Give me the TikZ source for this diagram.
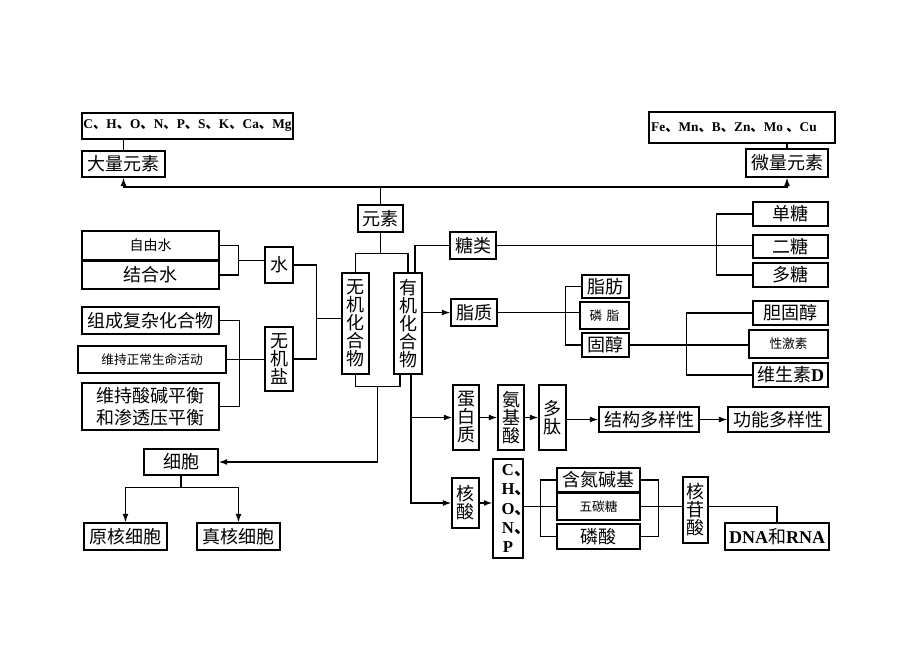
\documentclass[tikz,border=0pt]{standalone}
\usepackage{fontspec}
\usepackage{tikz}
\usetikzlibrary{calc,arrows.meta}
\newfontfamily\cjk{Noto Sans CJK SC}
\newfontfamily\lat{Liberation Serif}
\newcommand{\dun}{{\cjk 、}}
\newcommand{\bl}[1]{{\lat\bfseries #1}}

\begin{document}
\begin{tikzpicture}[x=0.75pt,y=0.75pt,yscale=-1,
  sz/.style 2 args={minimum width=#1*0.75pt,minimum height=#2*0.75pt},
  box/.style={draw,line width=0.8pt,inner sep=0pt,align=center,font=\cjk\fontsize{13.5}{14}\selectfont},
  smallbox/.style={box,font=\cjk\fontsize{9.5}{11}\selectfont},
  vbox/.style={box,font=\cjk\fontsize{13.5}{13.5}\selectfont},
  latbox/.style={box,font=\lat\bfseries\fontsize{10}{11}\selectfont},
  con/.style={line width=1.1pt},
  arr/.style={con,-{Latex[length=6.5pt,width=4.5pt]}}]
\useasboundingbox[fill=white] (0,0) rectangle (920,651);

%Elements
\node[latbox,sz={211}{26}] (cho) at (187.5,126) {C\dun H\dun O\dun N\dun P\dun S\dun K\dun Ca\dun Mg};
\node[box,sz={83}{26}] (dl) at (123.5,164) {大量元素};
\node[latbox,sz={186}{31}] (fe) at (742,127.5) {Fe\dun Mn\dun B\dun Zn\dun Mo \dun Cu\hspace{1.2em}};
\node[box,sz={82}{28}] (wl) at (787,163) {微量元素};
\node[box,sz={45}{27}] (ys) at (380.5,218.5) {元素};

%Compounds
\node[vbox,sz={27}{101}] (wj) at (355.5,323.5) {无\\机\\化\\合\\物};
\node[vbox,sz={28}{101}] (yj) at (408,323.5) {有\\机\\化\\合\\物};

%Inorganic side
\node[smallbox,sz={137}{29},font=\cjk\fontsize{10.5}{12}\selectfont] (zys) at (150.5,245.5) {自由水};
\node[box,sz={137}{28}] (jhs) at (150.5,275) {结合水};
\node[vbox,sz={28}{36}] (water) at (279,265) {水};
\node[vbox,sz={28}{64}] (wjy) at (279,359) {无\\机\\盐};
\node[box,sz={137}{27}] (zc) at (150.5,320.5) {组成复杂化合物};
\node[smallbox,sz={148}{27}] (wc) at (152,359.5) {维持正常生命活动};
\node[box,sz={137}{47},font=\cjk\fontsize{13.5}{16.5}\selectfont] (wsj) at (150.5,406.5) {维持酸碱平衡\\和渗透压平衡};

%Sugars and lipids
\node[box,sz={46}{27}] (tl) at (473,245.5) {糖类};
\node[box,sz={75}{24}] (dt) at (790.5,214) {单糖};
\node[box,sz={75}{23}] (et) at (790.5,246.5) {二糖};
\node[box,sz={75}{24}] (duot) at (790.5,275) {多糖};
\node[box,sz={46}{27}] (zz) at (474,312.5) {脂质};
\node[box,sz={47}{23}] (zf) at (605.5,286.5) {脂肪};
\node[smallbox,sz={49}{27}] (lz) at (604.5,315.5) {磷\,\,脂};
\node[box,sz={47}{24}] (gc) at (605.5,345) {固醇};
\node[box,sz={75}{24}] (dgc) at (790.5,313) {胆固醇};
\node[smallbox,sz={79}{28}] (xjs) at (788.5,344) {性激素};
\node[box,sz={75}{24}] (wss) at (790.5,375) {维生素\bl{D}};

%Proteins
\node[vbox,sz={26}{65}] (dbz) at (466,417.5) {蛋\\白\\质};
\node[vbox,sz={26}{65}] (ajs) at (511,417.5) {氨\\基\\酸};
\node[vbox,sz={27}{65}] (dtai) at (552.5,417.5) {多\\肽};
\node[box,sz={100}{25}] (jg) at (649,419.5) {结构多样性};
\node[box,sz={101}{25}] (gn) at (778.5,419.5) {功能多样性};

%Nucleic acids
\node[vbox,sz={27}{50}] (hs) at (465.5,503) {核\\酸};
\node[box,sz={30}{99},font=\lat\bfseries\fontsize{12.5}{14.5}\selectfont] (chonp) at (508,508.5) {C\rlap{\dun}\\H\rlap{\dun}\\O\rlap{\dun}\\N\rlap{\dun}\\P};
\node[box,sz={83}{24}] (hdjj) at (598.5,480) {含氮碱基};
\node[smallbox,sz={83}{27}] (wtt) at (598.5,506.5) {五碳糖};
\node[box,sz={83}{25}] (ls) at (598.5,536.5) {磷酸};
\node[vbox,sz={25}{66}] (hgs) at (695.5,510) {核\\苷\\酸};
\node[box,sz={104}{27}] (dna) at (777,536.5) {\bl{DNA}和\bl{RNA}};

%Cells
\node[box,sz={74}{26}] (xb) at (181,462) {细胞};
\node[box,sz={83}{27}] (yhxb) at (125.5,536.5) {原核细胞};
\node[box,sz={83}{27}] (zhxb) at (238.5,536.5) {真核细胞};

%Connectors: elements
\draw[con] (dl.north) -- (dl.north |- cho.south);
\draw[con] (wl.north) -- (wl.north |- fe.south);
\draw[con] (ys.north) -- ++(0,-17.5) coordinate (tp);
\draw[arr] (tp) -| (dl.south);
\draw[arr] (tp) -| (wl.south);
\draw[con] (ys.south) -- ++(0,21) coordinate (yb);
\draw[con] (wj.north) |- (yb) -| (yj.north);

%Connectors: inorganic
\coordinate (wm) at ($(zys.east)!0.5!(jhs.east)+(19,0)$);
\draw[con] (zys.east) -| (wm) |- (jhs.east);
\draw[con] (wm) -- (wm -| water.west);
\draw[con] (water.east) -- ++(23,0) coordinate (sa) |- (wjy.east);
\draw[con] (sa |- wj.west) ++(0,-5) -- ($(wj.west)+(0,-5)$);
\draw[con] (zc.east) -- ++(20,0) |- (wsj.east);
\draw[con] (wc.east) -- (wc.east -| wjy.west);

%Connectors: cells
\coordinate (yjb) at ($(yj.south)+(-8,0)$);
\draw[con] (wj.south) |- ($(yjb)+(0,12)$) -- (yjb);
\draw[arr] ($(wj.south)!0.5!(yjb)+(0,12)$) |- (xb.east);
\draw[con] (xb.south) -- ++(0,12) coordinate (xm);
\draw[arr] (xm) -| (yhxb.north);
\draw[arr] (xm) -| (zhxb.north);

%Connectors: organic
\draw[con] ($(yj.north)+(7,0)$) |- (tl.west);
\draw[arr] (yj.east |- zz.west) -- (zz.west);
\coordinate (yv) at ($(yj.south)+(3,0)$);
\draw[arr] (yv) |- (hs.west);
\draw[arr] (yv |- dbz.west) -- (dbz.west);

%Sugars
\draw[con] (tl.east) -- (tl.east -| et.west);
\draw[con] (dt.west) -- ++(-36,0) |- (duot.west);

%Lipids
\draw[con] (zz.east) -- (zz.east -| lz.west);
\draw[con] (zf.west) -- ++(-16,0) |- (gc.west);
\draw[con] (gc.east) -- (gc.east -| xjs.west);
\draw[con] (dgc.west) -- ++(-66,0) |- (wss.west);

%Proteins
\draw[arr] (dbz) -- (ajs);
\draw[arr] (ajs) -- (dtai);
\draw[arr] (dtai.east |- jg.west) -- (jg.west);
\draw[arr] (jg) -- (gn);

%Nucleic acids
\draw[arr] (hs) -- (hs -| chonp.west);
\coordinate (lb) at ($(wtt.west)+(-16,0)$);
\draw[con] (chonp.east |- wtt.west) -- (wtt.west);
\draw[con] (hdjj.west) -| (lb) |- (ls.west);
\coordinate (rb) at ($(wtt.east)+(18,0)$);
\draw[con] (hdjj.east) -| (rb) |- (ls.east);
\draw[con] (wtt.east) -- (wtt.east -| hgs.west);
\draw[con] (hgs.east |- wtt.east) -| (dna.north);

\end{tikzpicture}
\end{document}
